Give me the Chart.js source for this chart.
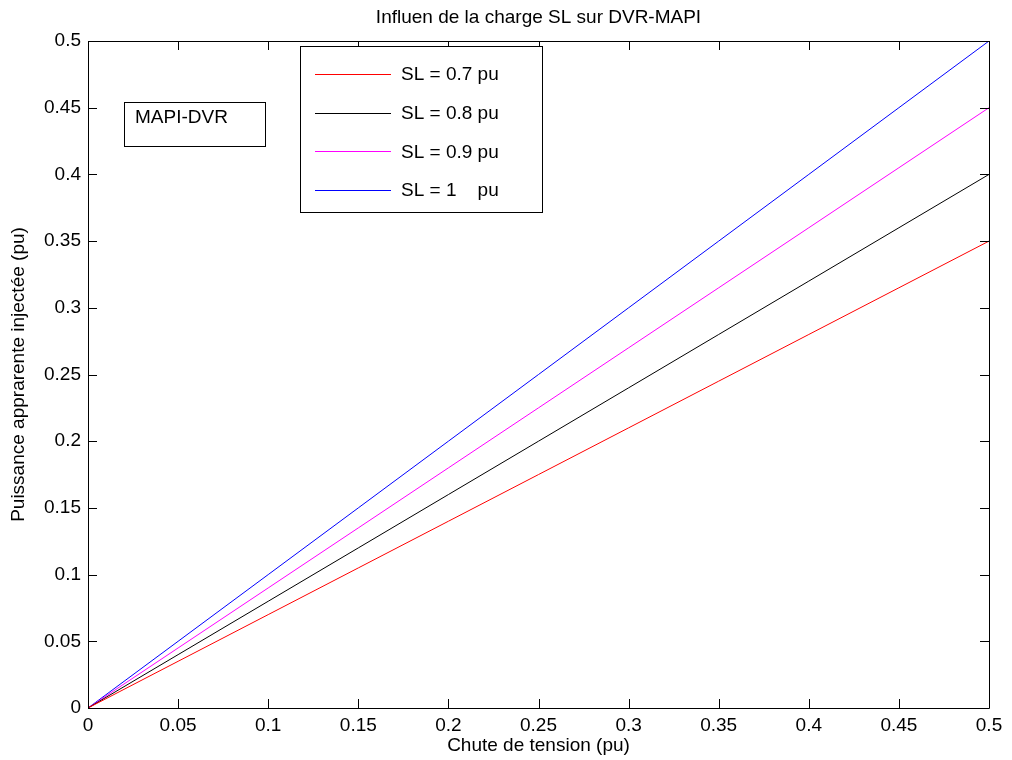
<!DOCTYPE html>
<html>
<head>
<meta charset="utf-8">
<script src="https://cdn.jsdelivr.net/npm/chart.js@4"></script>
<style>
  html, body { margin: 0; padding: 0; background: #fff; }
  #wrap { width: 1012px; height: 760px; }
</style>
</head>
<body>
<div id="wrap"><canvas id="chute"></canvas></div>
<script>
const chute = [0, 0.05, 0.1, 0.15, 0.2, 0.25, 0.3, 0.35, 0.4, 0.45, 0.5];
const sl07 = [0, 0.035, 0.07, 0.105, 0.14, 0.175, 0.21, 0.245, 0.28, 0.315, 0.35];
const sl08 = [0, 0.04, 0.08, 0.12, 0.16, 0.2, 0.24, 0.28, 0.32, 0.36, 0.4];
const sl09 = [0, 0.045, 0.09, 0.135, 0.18, 0.225, 0.27, 0.315, 0.36, 0.405, 0.45];
const sl10 = [0, 0.05, 0.1, 0.15, 0.2, 0.25, 0.3, 0.35, 0.4, 0.45, 0.5];
const xTicks = [0, 0.05, 0.1, 0.15, 0.2, 0.25, 0.3, 0.35, 0.4, 0.45, 0.5];
const yTicks = [0, 0.05, 0.1, 0.15, 0.2, 0.25, 0.3, 0.35, 0.4, 0.45, 0.5];
const legendLabels = ['SL = 0.7 pu', 'SL = 0.8 pu', 'SL = 0.9 pu', 'SL = 1    pu'];
const colors = ['#ff0000', '#000000', '#ff00ff', '#0000ff'];

const FONT = '"Liberation Sans", Arial, sans-serif';
const FS = 19;

function pts(ys) {
  return chute.map((x, i) => ({ x: x, y: ys[i] }));
}

const series = [sl07, sl08, sl09, sl10];

// inward ticks on all four sides, box, titles, legend and text box
const decor = {
  id: 'decor',
  afterDraw(chart) {
    const c = chart.ctx;
    const a = chart.chartArea;
    const xs = chart.scales.x, ys = chart.scales.y;
    c.save();
    c.strokeStyle = '#000';
    c.lineWidth = 1;
    c.beginPath();
    c.rect(Math.round(a.left) + 0.5, Math.round(a.top) + 0.5,
           Math.round(a.right - a.left), Math.round(a.bottom - a.top));
    c.stroke();

    const tl = 9;
    c.beginPath();
    xTicks.forEach(v => {
      const px = Math.round(xs.getPixelForValue(v)) + 0.5;
      c.moveTo(px, a.bottom); c.lineTo(px, a.bottom - tl);
      c.moveTo(px, a.top); c.lineTo(px, a.top + tl);
    });
    yTicks.forEach(v => {
      const py = Math.round(ys.getPixelForValue(v)) + 0.5;
      c.moveTo(a.left, py); c.lineTo(a.left + tl, py);
      c.moveTo(a.right, py); c.lineTo(a.right - tl, py);
    });
    c.stroke();

    c.fillStyle = '#000';
    c.font = FS + 'px ' + FONT;
    c.textAlign = 'center';
    c.textBaseline = 'middle';
    c.fillText('Influen de la charge SL sur DVR-MAPI', (a.left + a.right) / 2, 18);
    c.fillText('Chute de tension (pu)', (a.left + a.right) / 2, 746);
    c.save();
    c.translate(19, (a.top + a.bottom) / 2);
    c.rotate(-Math.PI / 2);
    c.fillText('Puissance apprarente injectée (pu)', 0, 0);
    c.restore();

    // text box
    c.fillStyle = '#fff';
    c.fillRect(124, 102, 142, 44);
    c.strokeRect(124.5, 102.5, 141, 44);
    c.fillStyle = '#000';
    c.textAlign = 'left';
    c.fillText('MAPI-DVR', 135, 118);

    // legend
    c.fillStyle = '#fff';
    c.fillRect(300, 46, 243, 166);
    c.strokeRect(300.5, 46.5, 242, 166);
    legendLabels.forEach((lab, i) => {
      const y = 74 + i * 38.7;
      c.strokeStyle = colors[i];
      c.beginPath();
      c.moveTo(315, Math.round(y) + 0.5);
      c.lineTo(391, Math.round(y) + 0.5);
      c.stroke();
      c.fillStyle = '#000';
      c.fillText(lab, 401, y + 1);
    });
    c.restore();
  }
};

new Chart(document.getElementById('chute'), {
  type: 'line',
  data: {
    datasets: series.map((s, i) => ({
      label: legendLabels[i],
      data: pts(s),
      borderColor: colors[i],
      borderWidth: 1,
      pointRadius: 0,
      tension: 0,
      fill: false
    }))
  },
  options: {
    responsive: true,
    maintainAspectRatio: false,
    animation: false,
    layout: { padding: { top: 41, right: 23, left: 0, bottom: 0 } },
    plugins: { legend: { display: false }, tooltip: { enabled: false } },
    scales: {
      x: {
        type: 'linear',
        min: 0, max: 0.5,
        afterBuildTicks: s => { s.ticks = xTicks.map(v => ({ value: v })); },
        afterFit: s => { s.height = 52; },
        grid: { display: false, drawTicks: false },
        border: { display: false },
        ticks: { color: '#000', font: { family: FONT, size: FS }, padding: 6, maxRotation: 0, autoSkip: false,
                 callback: v => String(v) }
      },
      y: {
        type: 'linear',
        min: 0, max: 0.5,
        afterBuildTicks: s => { s.ticks = yTicks.map(v => ({ value: v })); },
        afterFit: s => { s.width = 88; },
        grid: { display: false, drawTicks: false },
        border: { display: false },
        ticks: { color: '#000', font: { family: FONT, size: FS }, padding: 7, autoSkip: false,
                 callback: v => String(v) }
      }
    }
  },
  plugins: [decor]
});
</script>
</body>
</html>
